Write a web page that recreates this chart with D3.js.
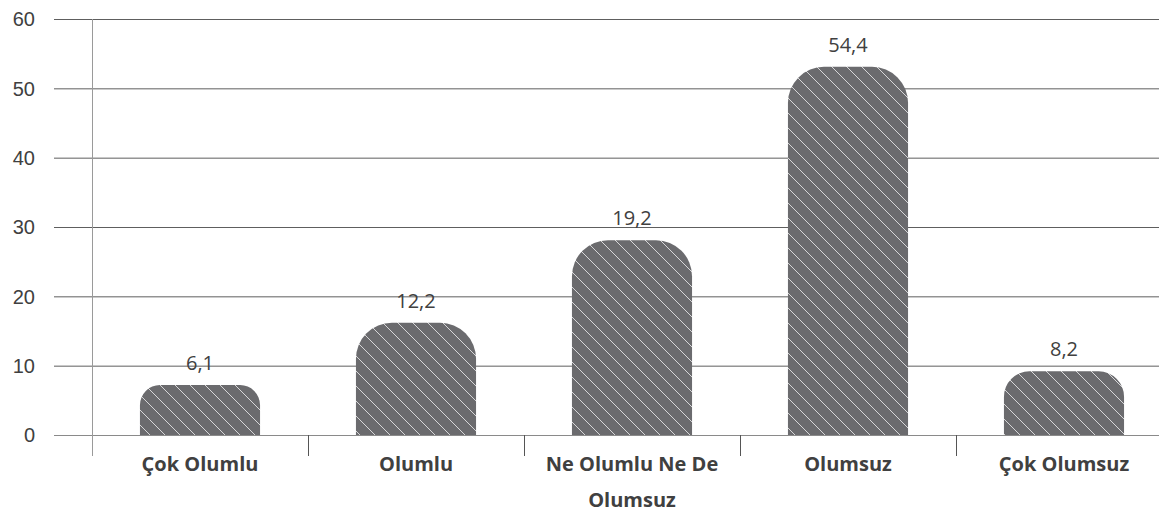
<!DOCTYPE html>
<html>
<head>
<meta charset="utf-8">
<script src="https://cdn.jsdelivr.net/npm/d3@7"></script>
<style>
  html, body { margin: 0; padding: 0; background: #fff; }
  svg { display: block; }
</style>
</head>
<body>
<div id="chart"></div>
<script>
const categories = ["Çok Olumlu", "Olumlu", "Ne Olumlu Ne De Olumsuz", "Olumsuz", "Çok Olumsuz"];
// bar heights as drawn in the picture
const barValues = [7.2, 16.2, 28.1, 53.1, 9.2];
// data labels printed above the bars
const labelValues = [6.1, 12.2, 19.2, 54.4, 8.2];
const yTicks = [0, 10, 20, 30, 40, 50, 60];

const width = 1159;
const height = 513;
const margin = { top: 19, left: 92, bottom: 78 };
const plotRight = 1172;

const data = categories.map((c, i) => ({ category: c, value: barValues[i], label: labelValues[i] }));

const svg = d3.select("#chart")
    .append("svg")
    .attr("width", width)
    .attr("height", height)
    .style("font-family", "'Open Sans', sans-serif");

const defs = svg.append("defs");
const pattern = defs.append("pattern")
    .attr("id", "hatch")
    .attr("patternUnits", "userSpaceOnUse")
    .attr("width", 15)
    .attr("height", 15);
pattern.append("rect")
    .attr("width", 15)
    .attr("height", 15)
    .attr("fill", "#6b6b6e");
pattern.append("path")
    .attr("d", "M-4,-4 L19,19 M-4,11 L4,19 M11,-4 L19,4")
    .attr("stroke", "#d6d6d8")
    .attr("stroke-width", 1);

const xScale = d3.scaleBand()
    .domain(categories)
    .range([margin.left, plotRight])
    .paddingInner(0.444)
    .paddingOuter(0.222);

const yScale = d3.scaleLinear()
    .domain([0, 60])
    .range([height - margin.bottom, margin.top]);

// gridlines + y labels
const yAxis = svg.append("g")
    .attr("transform", "translate(54,0)")
    .call(d3.axisLeft(yScale)
        .tickValues(yTicks)
        .tickSize(-(width - 54))
        .tickPadding(19));
yAxis.select(".domain").remove();
yAxis.selectAll("line")
    .attr("stroke", d => d === 0 ? "#8a8a8a" : "#5e5e5e")
    .attr("stroke-width", 1);
yAxis.selectAll("text")
    .attr("font-size", "20px")
    .attr("fill", "#404040")
    .attr("dy", "0.34em");

// y axis line
svg.append("line")
    .attr("x1", margin.left + 0.5)
    .attr("x2", margin.left + 0.5)
    .attr("y1", yScale(60))
    .attr("y2", yScale(0) + 21)
    .attr("stroke", "#9a9a9a");

// category separator ticks
const step = xScale.step();
svg.selectAll(".sep")
    .data(categories.slice(1))
    .enter()
    .append("line")
    .attr("class", "sep")
    .attr("x1", d => Math.round(xScale(d) - step * xScale.paddingInner() / 2) + 0.5)
    .attr("x2", d => Math.round(xScale(d) - step * xScale.paddingInner() / 2) + 0.5)
    .attr("y1", yScale(0))
    .attr("y2", yScale(0) + 21)
    .attr("stroke", "#555");

svg.selectAll(".bar")
    .data(data)
    .enter()
    .append("path")
    .attr("class", "bar")
    .attr("d", d => {
        const x0 = xScale(d.category);
        const x1 = x0 + xScale.bandwidth();
        const y0 = yScale(0);
        const yt = yScale(d.value);
        const r = Math.min(36, (y0 - yt) * 0.4);
        const path = d3.path();
        path.moveTo(x0, y0);
        path.lineTo(x0, yt + r);
        path.arcTo(x0, yt, x0 + r, yt, r);
        path.lineTo(x1 - r, yt);
        path.arcTo(x1, yt, x1, yt + r, r);
        path.lineTo(x1, y0);
        path.closePath();
        return path.toString();
    })
    .attr("fill", "url(#hatch)");

svg.selectAll(".label")
    .data(data)
    .enter()
    .append("text")
    .attr("class", "label")
    .attr("x", d => xScale(d.category) + xScale.bandwidth() / 2)
    .attr("y", d => yScale(d.value) - 15)
    .attr("text-anchor", "middle")
    .attr("font-size", "20px")
    .attr("fill", "#404040")
    .text(d => d3.format(".1f")(d.label).replace(".", ","));

// category labels, wrapped to the band width
const catLabels = svg.selectAll(".cat")
    .data(categories)
    .enter()
    .append("text")
    .attr("class", "cat")
    .attr("text-anchor", "middle")
    .attr("font-size", "20px")
    .attr("font-weight", "bold")
    .attr("fill", "#404040");

catLabels.each(function(d) {
    const text = d3.select(this);
    const cx = xScale(d) + xScale.bandwidth() / 2;
    const words = d.split(" ");
    let lines = [];
    let line = [];
    const probe = text.append("tspan");
    words.forEach(w => {
        line.push(w);
        probe.text(line.join(" "));
        if (probe.node().getComputedTextLength() > step - 20 && line.length > 1) {
            line.pop();
            lines.push(line.join(" "));
            line = [w];
        }
    });
    lines.push(line.join(" "));
    probe.remove();
    lines.forEach((l, i) => {
        text.append("tspan")
            .attr("x", cx)
            .attr("y", yScale(0) + 36 + i * 36)
            .text(l);
    });
});
</script>
</body>
</html>
